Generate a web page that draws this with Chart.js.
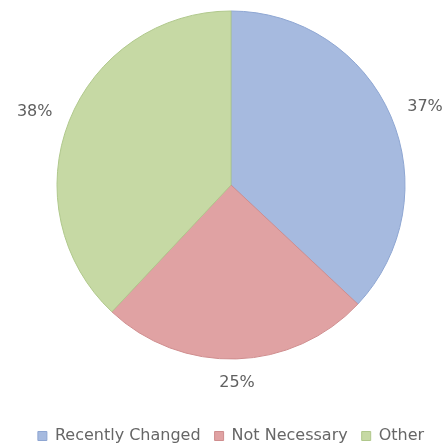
<!DOCTYPE html>
<html>
<head>
<meta charset="utf-8">
<script src="https://cdn.jsdelivr.net/npm/chart.js@4"></script>
<style>
  html, body { margin: 0; padding: 0; background: #fff; }
  #wrap { width: 444px; height: 447px; }
</style>
</head>
<body>
<div id="wrap"><canvas id="chart" width="444" height="447"></canvas></div>
<script>
const categories = ['Recently Changed', 'Not Necessary', 'Other'];
const percentages = [37, 25, 38];
const sliceColors = ['#a6badf', '#e0a2a3', '#c6d9a4'];
const edgeColors = ['#8ea6d2', '#cf8d8e', '#b0c88c'];

const labelFont = '16px "DejaVu Sans", sans-serif';

// "37%" style labels just outside each slice, placed by their edge like Excel does
const outsideLabels = {
  id: 'outsideLabels',
  afterDatasetsDraw(chart) {
    const ctx = chart.ctx;
    const arcs = chart.getDatasetMeta(0).data;
    ctx.save();
    ctx.font = labelFont;
    ctx.fillStyle = '#606060';
    ctx.textAlign = 'center';
    ctx.textBaseline = 'middle';
    arcs.forEach((arc, i) => {
      const p = arc.getProps(['x', 'y', 'startAngle', 'endAngle', 'outerRadius'], true);
      const mid = (p.startAngle + p.endAngle) / 2;
      const txt = percentages[i] + '%';
      const w = ctx.measureText(txt).width;
      const gap = p.outerRadius + 18;
      const cx = p.x + Math.cos(mid) * gap + Math.sign(Math.round(Math.cos(mid) * 10)) * w / 2;
      const cy = p.y + Math.sin(mid) * (gap + 6);
      ctx.fillText(txt, cx, cy);
    });
    ctx.restore();
  }
};

new Chart(document.getElementById('chart'), {
  type: 'pie',
  data: {
    labels: categories,
    datasets: [{
      data: percentages,
      backgroundColor: sliceColors,
      borderColor: edgeColors,
      borderWidth: 1,
      radius: 174
    }]
  },
  options: {
    responsive: false,
    animation: false,
    layout: { padding: { top: 0, bottom: -7, left: 18, right: 0 } },
    plugins: {
      tooltip: { enabled: false },
      legend: {
        position: 'bottom',
        // blank title only used as a spacer between the pie and the legend row
        title: { display: true, text: ' ', font: { size: 10, lineHeight: 1 }, padding: { top: 34, bottom: 0 } },
        labels: {
          boxWidth: 9,
          boxHeight: 9,
          padding: 14,
          color: '#606060',
          font: { family: '"DejaVu Sans", sans-serif', size: 16, lineHeight: 1 },
          generateLabels(chart) {
            return categories.map((c, i) => ({
              text: c,
              fillStyle: sliceColors[i],
              strokeStyle: edgeColors[i],
              lineWidth: 1,
              index: i
            }));
          }
        }
      }
    }
  },
  plugins: [outsideLabels]
});
</script>
</body>
</html>
